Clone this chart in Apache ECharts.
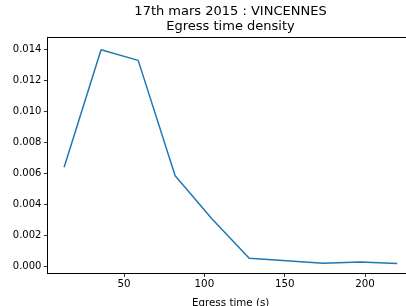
<!DOCTYPE html>
<html>
<head>
<meta charset="utf-8">
<script src="https://cdn.jsdelivr.net/npm/echarts@6/dist/echarts.min.js"></script>
<style>html,body{margin:0;padding:0;background:#fff;overflow:hidden}#c{width:406px;height:306px;overflow:hidden}</style>
</head>
<body>
<div id="c"></div>
<script>
var egressTime = [12.7, 35.7, 58.8, 81.8, 104.8, 127.9, 150.9, 173.9, 197.0, 220.0];
var density = [0.00639, 0.01395, 0.01327, 0.00585, 0.00307, 0.00055, 0.00039, 0.00022, 0.00030, 0.00020];
var xTicks = [50, 100, 150, 200];
var yTicks = [0, 0.002, 0.004, 0.006, 0.008, 0.010, 0.012, 0.014];
var titleLines = ['17th mars 2015 : VINCENNES', 'Egress time density'];
var xLabel = 'Egress time (s)';

var font = 'DejaVu Sans';
var X_MIN = 2.3, X_MAX = 230.4;
var chart = echarts.init(document.getElementById('c'), null, {renderer: 'canvas'});
chart.setOption({
  animation: false,
  backgroundColor: '#ffffff',
  title: {
    text: titleLines.join('\n'),
    left: 230.5, top: 4, padding: 0, textAlign: 'center',
    textStyle: {fontFamily: font, fontSize: 13, fontWeight: 'normal', color: '#000', lineHeight: 15}
  },
  grid: {left: 47.4, top: 37.5, width: 366.5, height: 236, show: false,
    containLabel: false, outerBoundsMode: 'none'},
  xAxis: [{
    type: 'value', min: X_MIN, max: X_MAX,
    name: xLabel, nameLocation: 'middle', nameGap: 25,
    nameTextStyle: {fontFamily: font, fontSize: 10.3, color: '#000'},
    axisLine: {show: true, onZero: false, lineStyle: {color: '#000', width: 1}},
    axisTick: {show: true, length: 3.5, customValues: xTicks, lineStyle: {color: '#000', width: 0.8}},
    axisLabel: {customValues: xTicks, fontFamily: font, fontSize: 10.3, color: '#000', margin: 6},
    splitLine: {show: false}
  }, {
    type: 'value', position: 'top', min: X_MIN, max: X_MAX,
    axisLine: {show: true, onZero: false, lineStyle: {color: '#000', width: 1}},
    axisTick: {show: false}, axisLabel: {show: false}, splitLine: {show: false}
  }],
  yAxis: {
    type: 'value', min: -0.000437, max: 0.01474,
    axisLine: {show: true, onZero: false, lineStyle: {color: '#000', width: 1}},
    axisTick: {show: true, length: 3.5, customValues: yTicks, lineStyle: {color: '#000', width: 0.8}},
    axisLabel: {customValues: yTicks, fontFamily: font, fontSize: 10, color: '#000', margin: 6,
      formatter: function (v) { return v.toFixed(3); }},
    splitLine: {show: false}
  },
  series: [{
    type: 'line',
    xAxisIndex: 0,
    data: egressTime.map(function (x, i) { return [x, density[i]]; }),
    symbol: 'none',
    lineStyle: {color: '#1f77b4', width: 1.5},
    itemStyle: {color: '#1f77b4'}
  }]
});
</script>
</body>
</html>
